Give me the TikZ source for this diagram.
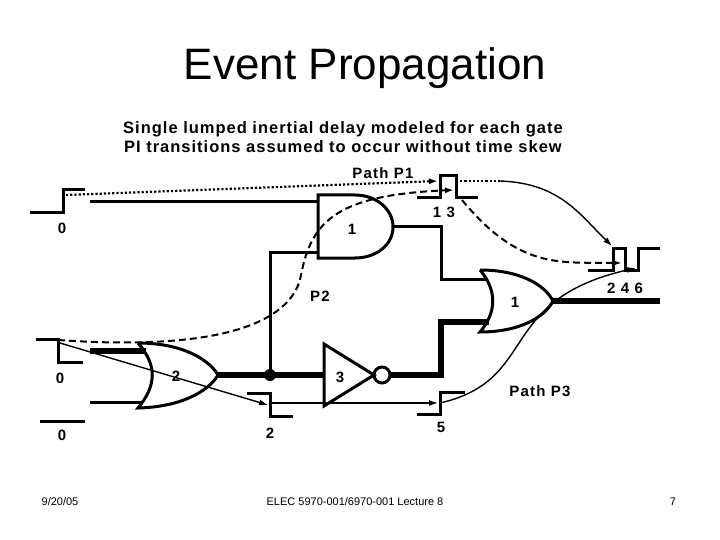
\documentclass[tikz,border=0pt]{standalone}
\usepackage{fontspec}
\setmainfont{Liberation Sans}
\usetikzlibrary{arrows.meta}
\begin{document}
\begin{tikzpicture}[x=1pt,y=-1pt,
  wire/.style={line width=3pt},
  bus/.style={line width=6pt},
  wave/.style={line width=3pt},
  thinp/.style={line width=1.4pt,-{Latex[length=9pt,width=6pt]}},
  lbl/.style={font=\bfseries\fontsize{15}{18}\selectfont\addfontfeatures{LetterSpace=8}},
  foot/.style={font=\fontsize{11}{13}\selectfont}]
\useasboundingbox (0,0) rectangle (720,540);
\node (title) at (365,68) {\fontsize{44}{50}\selectfont Event Propagation};
\node[font=\bfseries\fontsize{16.5}{19}\selectfont\addfontfeatures{LetterSpace=6},align=center] (sub) at (343,137) {Single lumped inertial delay modeled for each gate\\PI transitions assumed to occur without time skew};
\node[lbl] (pp1) at (383,173) {Path P1};
% waveforms
\draw[wave] (30,213)--(63,213)--(63,190)--(85,190);
\node[lbl] (l0a) at (62,228) {0};
\draw[wave] (36,339)--(58,339)--(58,362)--(83,362);
\node[lbl] (l0b) at (60,378) {0};
\draw[wave] (40,421)--(85,421);
\node[lbl] (l0c) at (62,435) {0};
\draw[wave] (247,393)--(270,393)--(270,416)--(293,416);
\node[lbl] (l2) at (270,433) {2};
\draw[wave] (417,414)--(440,414)--(440,392)--(465,392);
\node[lbl] (l5) at (441,427) {5};
\draw[wave] (417,198)--(440,198)--(440,176)--(456,176)--(456,198)--(478,198);
\node[lbl] (l13) at (444,212) {1 3};
\draw[wave] (588,270)--(613,270)--(613,248)--(625,248)--(625,270)--(638,270)--(638,248)--(660,248);
\node[lbl] (l246) at (625,288) {2 4 6};
% AND gate 1
\draw[wave] (318,195)--(355,195) .. controls (376,195) and (393,209) .. (393,227)
  .. controls (393,245) and (376,258) .. (355,258)--(318,258)--cycle;
\node[lbl] (g1) at (352,229) {1};
\draw[wire] (90,202)--(318,202);
\draw[wire] (270,375)--(270,252)--(318,252);
\draw[wire] (393,227)--(441,227)--(441,279)--(487,279);
% OR gate 1
\draw[wave] (480,270) .. controls (520,270) and (545,285) .. (553,301)
  .. controls (545,317) and (520,332) .. (480,332)
  .. controls (497,312) and (497,290) .. (480,270);
\node[lbl] (o1) at (515,302) {1};
\draw[bus] (553,301)--(660,301);
\draw[bus] (390,375)--(441,375)--(441,322)--(489,322);
% OR gate 2
\draw[wave] (138,343) .. controls (180,343) and (208,358) .. (218,375)
  .. controls (208,392) and (180,407) .. (138,408)
  .. controls (157,385) and (157,365) .. (138,343);
\node[lbl] (o2) at (176,376) {2};
\draw[bus] (90,351)--(146,351);
\draw[wire] (90,402)--(143,402);
\draw[bus] (218,375)--(324,375);
\fill (270,375) circle (6);
% inverter
\draw[wave] (324,344)--(374,375)--(324,406)--cycle;
\draw[wave] (382,375) circle (8);
\node[lbl] (i3) at (340,377) {3};
% paths
\draw[line width=2.2pt,dotted,-{Latex[length=9pt,width=6pt]}] (66,195)--(438,181);
\draw[line width=2.2pt,dotted] (456,181)--(500,181);
\draw[thinp] (500,181) .. controls (560,183) and (580,215) .. (612,246);
\draw[line width=2pt,dash pattern=on 7pt off 4pt,-{Latex[length=9pt,width=6pt]}] (58,340) .. controls (200,350) and (285,330) .. (300,280) .. controls (310,225) and (330,195) .. (454,190);
\draw[line width=2pt,dash pattern=on 7pt off 4pt,-{Latex[length=9pt,width=6pt]}] (462,200) .. controls (520,270) and (560,262) .. (622,263);
\node[lbl] (p2) at (320,296) {P2};
\draw[thinp] (60,343)--(268,405);
\draw[thinp] (270,403)--(438,403);
\draw[thinp] (440,403) .. controls (540,380) and (495,300) .. (636,268);
\node[lbl] (pp3) at (540,391) {Path P3};
% footer
\node[foot] (f1) at (60,502) {9/20/05};
\node[foot] (f2) at (355,502) {ELEC 5970-001/6970-001 Lecture 8};
\node[foot] (f3) at (673,502) {7};
\end{tikzpicture}
\end{document}
